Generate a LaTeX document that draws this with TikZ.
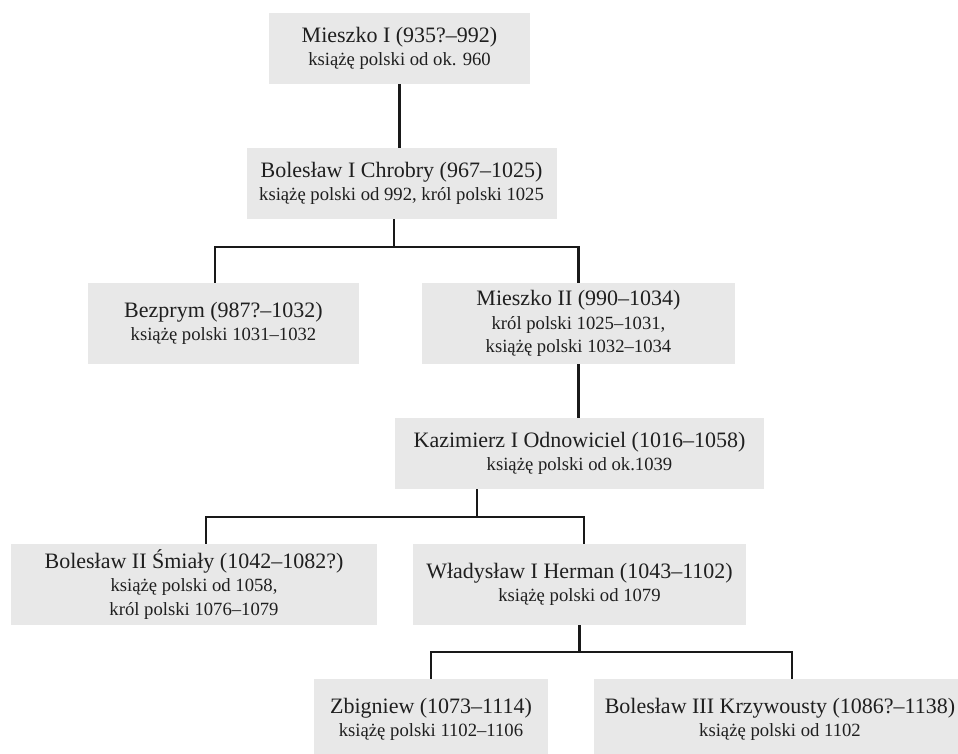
\documentclass[tikz,border=0pt]{standalone}
\usepackage{fontspec}
\setmainfont{Liberation Serif}
\definecolor{boxgray}{HTML}{E8E8E8}
\newcommand{\rname}[1]{{\fontsize{16.5}{17.5}\selectfont #1}}

\begin{document}
\begin{tikzpicture}[x=0.75pt,y=-0.75pt,
    ruler/.style 2 args={fill=boxgray,inner sep=0pt,align=center,
      text=black!88,font=\fontsize{14}{17.5}\selectfont,
      minimum width=#1*0.75pt,minimum height=#2*0.75pt},
    line/.style={line width=1.6pt,black!90}]
  \useasboundingbox (0,0) rectangle (958,754);
  \clip (0,0) rectangle (958,754);
  \node[ruler={261}{71}] (m1) at (399.5,48.5) {\rname{Mieszko I (935?–992)}\\książę polski od ok. 960};
  \node[ruler={310}{71}] (b1) at (401.5,183.5) {\rname{Bolesław I Chrobry (967–1025)}\\książę polski od 992, król polski 1025};
  \node[ruler={271}{81}] (bez) at (223.5,323.5) {\rname{Bezprym (987?–1032)}\\książę polski 1031–1032};
  \node[ruler={313}{81}] (m2) at (578.5,323.5) {\rname{Mieszko II (990–1034)}\\król polski 1025–1031,\\książę polski 1032–1034};
  \node[ruler={369}{71}] (k1) at (579.5,453.5) {\rname{Kazimierz I Odnowiciel (1016–1058)}\\książę polski od ok.1039};
  \node[ruler={366}{81}] (b2) at (194,584.5) {\rname{Bolesław II Śmiały (1042–1082?)}\\książę polski od 1058,\\król polski 1076–1079};
  \node[ruler={333}{81}] (w1) at (579.5,584.5) {\rname{Władysław I Herman (1043–1102)}\\książę polski od 1079};
  \node[ruler={234}{81}] (zb) at (431,719.5) {\rname{Zbigniew (1073–1114)}\\książę polski 1102–1106};
  \node[ruler={372}{81}] (b3) at (780,719.5) {\rname{Bolesław III Krzywousty (1086?–1138)}\\książę polski od 1102};

  \draw[line] (m1.south) -- (m1.south |- b1.north);
  \draw[line] ([xshift=-5.6pt]b1.south) -- ++(0,28) -| ([xshift=-6.4pt]bez.north);
  \draw[line] ([xshift=-5.6pt]b1.south) ++(0,28) -| (m2.north);
  \draw[line] (m2.south) -- (m2.south |- k1.north);
  \draw[line] ([xshift=-76.9pt]k1.south) -- ++(0,28) -| ([xshift=9pt]b2.north);
  \draw[line] ([xshift=-76.9pt]k1.south) ++(0,28) -| ([xshift=3.4pt]w1.north);
  \draw[line] (w1.south) -- ++(0,27) -| (zb.north);
  \draw[line] (w1.south) ++(0,27) -| ([xshift=9pt]b3.north);
\end{tikzpicture}
\end{document}
